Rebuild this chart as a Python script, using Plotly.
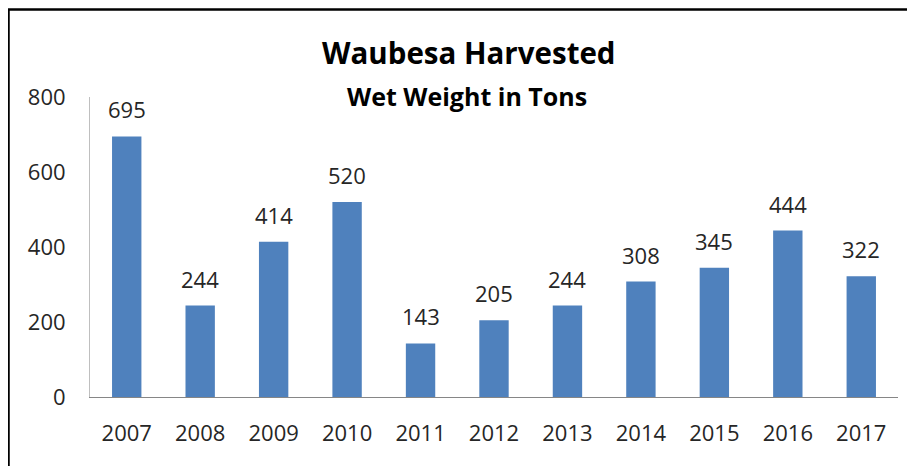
import plotly.graph_objects as go

years = ["2007", "2008", "2009", "2010", "2011", "2012", "2013", "2014", "2015", "2016", "2017"]
tons = [695, 244, 414, 520, 143, 205, 244, 308, 345, 444, 322]
y_ticks = [0, 200, 400, 600, 800]

FONT = "Open Sans"
OFF = 8  # page body margin offset
W, H = 915 - OFF, 466 - OFF
L, R, T, B = 90 - OFF, 17, 97 - OFF, 69
pw, ph = W - L - R, H - T - B

def px(x):  # reference page pixel -> paper coords
    return (x - OFF - L) / pw

def py(y):
    return (H - B - (y - OFF)) / ph

fig = go.Figure()
fig.add_trace(go.Bar(
    x=years, y=tons,
    marker=dict(color="#4F81BD", line=dict(width=0)),
    hoverinfo="x+y",
))

for i, v in enumerate(tons):
    fig.add_annotation(x=i, y=v, text=str(v), showarrow=False,
                       yanchor="middle", yshift=27,
                       font=dict(family=FONT, size=22, color="#262626"))

fig.add_annotation(xref="paper", yref="paper", x=px(469), y=py(53),
                   text="<b>Waubesa Harvested</b>", showarrow=False,
                   xanchor="center", yanchor="middle",
                   font=dict(family=FONT, size=29.5, color="#000000"))
fig.add_annotation(xref="paper", yref="paper", x=px(467), y=py(96),
                   text="<b>Wet Weight in Tons</b>", showarrow=False,
                   xanchor="center", yanchor="middle",
                   font=dict(family=FONT, size=25, color="#000000"))

fig.add_shape(type="rect", xref="paper", yref="paper",
              x0=px(8.5), x1=px(930), y0=py(490), y1=py(9.5),
              line=dict(color="#000000", width=2.5), fillcolor="rgba(0,0,0,0)")

fig.update_layout(
    width=W, height=H,
    margin=dict(l=L, r=R, t=T, b=B),
    paper_bgcolor="white", plot_bgcolor="white",
    bargap=0.6, showlegend=False,
    font=dict(family=FONT, size=22, color="#262626"),
)
fig.update_xaxes(type="category", range=[-0.5, len(years) - 0.5],
                 showgrid=False, showline=True, linecolor="#868686", linewidth=1,
                 ticks="", ticklabelstandoff=17,
                 tickfont=dict(family=FONT, size=22, color="#262626"))
fig.update_yaxes(range=[0, 800], tickvals=y_ticks, showgrid=False, zeroline=False,
                 showline=True, linecolor="#BFBFBF", linewidth=1,
                 ticks="", ticklabelstandoff=19,
                 tickfont=dict(family=FONT, size=22, color="#262626"))

fig.write_html("out.html")
